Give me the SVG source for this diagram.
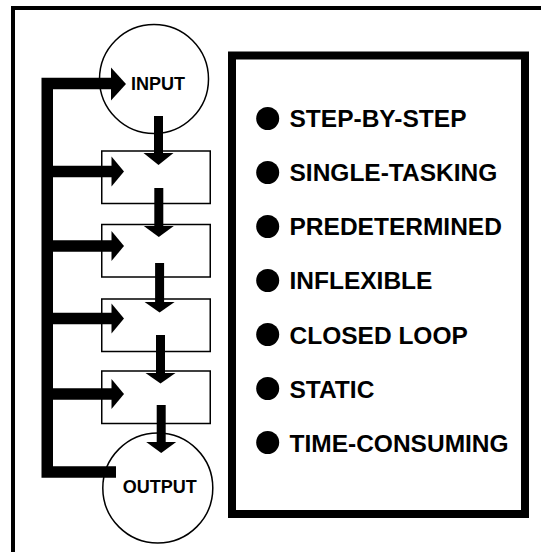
<svg xmlns="http://www.w3.org/2000/svg" width="541" height="552" viewBox="0 0 541 552">
  <style>
    .frame { fill: none; stroke: #000; stroke-width: 4; }
    .panel { fill: #fff; stroke: #000; stroke-width: 8; }
    .node { fill: #fff; stroke: #000; stroke-width: 1.5; }
    .label { font-family: "Liberation Sans", Arial, Helvetica, sans-serif; font-weight: bold; fill: #000; }
    .io { font-size: 18px; text-anchor: middle; }
    .item { font-size: 24.5px; }
    .bullet { fill: #000; }
    .bar { fill: none; stroke: #000; stroke-width: 11.5; stroke-linejoin: miter; stroke-linecap: butt; }
    .shaft { fill: none; stroke: #000; stroke-width: 9; stroke-linecap: butt; }
    .head { fill: #000; }
  </style>

  <rect x="0" y="0" width="541" height="552" fill="#fff"/>

  <!-- outer frame, open to the right and bottom -->
  <path class="frame" d="M13,560 V8 H545"/>

  <!-- process nodes -->
  <g id="input">
    <circle class="node" cx="154" cy="79" r="54.5"/>
    <text class="label io" x="158" y="89.5">INPUT</text>
  </g>
  <g id="step1">
    <rect class="node" x="101.75" y="151" width="108.5" height="52.5"/>
  </g>
  <g id="step2">
    <rect class="node" x="101.75" y="224.5" width="108.5" height="52.5"/>
  </g>
  <g id="step3">
    <rect class="node" x="101.75" y="299" width="108.5" height="52.5"/>
  </g>
  <g id="step4">
    <rect class="node" x="101.75" y="371" width="108.5" height="52.5"/>
  </g>
  <g id="output">
    <circle class="node" cx="157.8" cy="488" r="55"/>
    <text class="label io" x="159.7" y="492.7">OUTPUT</text>
  </g>

  <!-- connectors -->
  <g id="connectors">
    <!-- feedback loop from output back to input -->
    <path class="bar" d="M116,472 H47.25 V83.5 H112"/>
    <polygon class="head" points="111,67.5 126,84 111,100.5"/>

    <!-- feeds into each step -->
    <path class="bar" d="M47,171.5 H112.5"/>
    <polygon class="head" points="111.5,156.5 124,171.5 111.5,186.5"/>
    <path class="bar" d="M47,246 H112.5"/>
    <polygon class="head" points="111.5,231 124,246 111.5,261"/>
    <path class="bar" d="M47,318.5 H112.5"/>
    <polygon class="head" points="111.5,303.5 124,318.5 111.5,333.5"/>
    <path class="bar" d="M47,394 H112.5"/>
    <polygon class="head" points="111.5,379 124,394 111.5,409"/>

    <!-- downward flow through the steps -->
    <path class="shaft" d="M158.5,116 V154"/>
    <polygon class="head" points="143.5,153 158.5,165 173.5,153"/>
    <path class="shaft" d="M158.8,188 V227"/>
    <polygon class="head" points="143.8,226 158.8,237 173.8,226"/>
    <path class="shaft" d="M159.6,263 V303"/>
    <polygon class="head" points="144.6,302 159.6,312.5 174.6,302"/>
    <path class="shaft" d="M160.5,335 V374"/>
    <polygon class="head" points="145.5,373 160.5,383.5 175.5,373"/>
    <path class="shaft" d="M161.2,405 V443"/>
    <polygon class="head" points="146.2,442 161.2,453 176.2,442"/>
  </g>

  <!-- characteristics panel -->
  <g id="traits">
    <rect class="panel" x="232" y="55.5" width="293" height="458.5"/>
    <circle class="bullet" cx="267.7" cy="118.5" r="11.5"/>
    <text class="label item" x="289.5" y="127">STEP-BY-STEP</text>
    <circle class="bullet" cx="267.7" cy="172.5" r="11.5"/>
    <text class="label item" x="289.5" y="181">SINGLE-TASKING</text>
    <circle class="bullet" cx="267.7" cy="226.5" r="11.5"/>
    <text class="label item" x="289.5" y="235">PREDETERMINED</text>
    <circle class="bullet" cx="267.7" cy="280.5" r="11.5"/>
    <text class="label item" x="289.5" y="289">INFLEXIBLE</text>
    <circle class="bullet" cx="267.7" cy="334.5" r="11.5"/>
    <text class="label item" x="289.5" y="343.5">CLOSED LOOP</text>
    <circle class="bullet" cx="267.7" cy="388.5" r="11.5"/>
    <text class="label item" x="289.5" y="397.5">STATIC</text>
    <circle class="bullet" cx="267.7" cy="442.5" r="11.5"/>
    <text class="label item" x="289.5" y="451.5">TIME-CONSUMING</text>
  </g>
</svg>
